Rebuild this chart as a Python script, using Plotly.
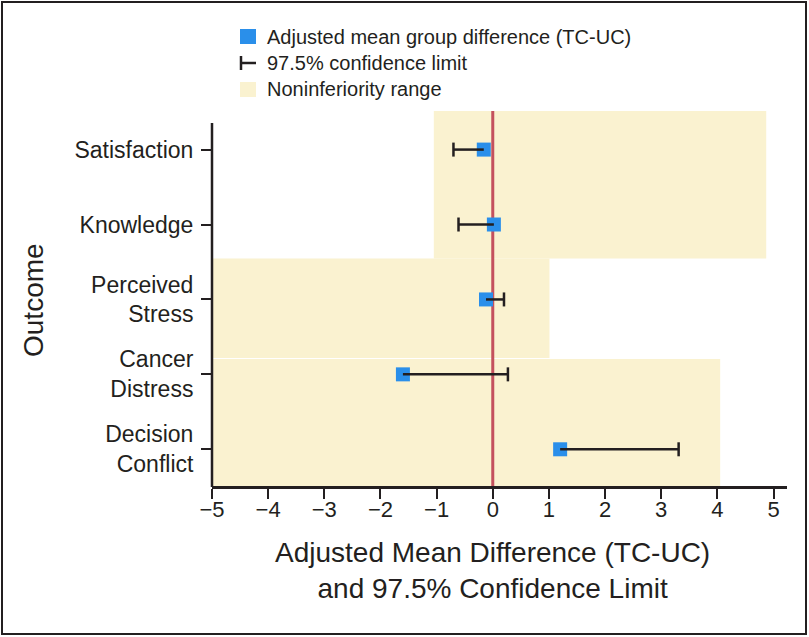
import plotly.graph_objects as go

# ---- data ----
outcomes = ["Satisfaction", "Knowledge", "Perceived<br>Stress", "Cancer<br>Distress", "Decision<br>Conflict"]
estimate = [-0.16, 0.02, -0.12, -1.60, 1.20]
ci_limit = [-0.70, -0.61, 0.20, 0.27, 3.31]
ni_lower = [-1.05, -1.05, -5.0, -5.0, -5.0]
ni_upper = [4.87, 4.87, 1.01, 4.05, 4.05]
x_ticks = [-5, -4, -3, -2, -1, 0, 1, 2, 3, 4, 5]

FONT = "Liberation Sans, Arial, Helvetica, sans-serif"
INK = "#231F20"
BLUE = "#2A8FEA"
CREAM = "#FAF2D0"
RED = "#C4515E"

W, H = 809, 637
L, R, T, B = 212, 22, 111, 151
PW, PH = W - L - R, H - T - B
Y_TOP, Y_BOT = -0.515, 4.49


def px_x(px):
    return (px - L) / PW


def px_y(py):
    return (H - B - py) / PH


rows = list(range(len(outcomes)))

fig = go.Figure()

# point estimates
fig.add_trace(go.Scatter(
    x=estimate, y=rows, mode="markers",
    marker=dict(symbol="square", size=14, color=BLUE, line=dict(width=0)),
    showlegend=False, hoverinfo="skip",
))

# one-sided confidence limits, drawn over the squares
ci_x, ci_y = [], []
for est, lim, r in zip(estimate, ci_limit, rows):
    ci_x += [est, lim, None]
    ci_y += [r, r, None]
fig.add_trace(go.Scatter(
    x=ci_x, y=ci_y, mode="lines",
    line=dict(color=INK, width=2.5),
    showlegend=False, hoverinfo="skip",
))
fig.add_trace(go.Scatter(
    x=ci_limit, y=rows, mode="markers",
    marker=dict(symbol="line-ns", size=10, line=dict(color=INK, width=2.5)),
    showlegend=False, hoverinfo="skip",
))

# noninferiority ranges: consecutive outcomes sharing a margin form one block
spans = [(Y_TOP, 1.453), (1.453, 2.78), (2.795, Y_BOT + 0.1)]
groups = [[0, 1], [2], [3, 4]]
for (y0, y1), g in zip(spans, groups):
    fig.add_shape(type="rect", xref="x", yref="y",
                  x0=ni_lower[g[0]], x1=ni_upper[g[0]], y0=y0, y1=y1,
                  fillcolor=CREAM, line=dict(width=0), layer="below")

# zero reference line
fig.add_shape(type="line", xref="x", yref="y", x0=0, x1=0, y0=Y_TOP, y1=Y_BOT,
              line=dict(color=RED, width=3), layer="below")

# left axis line (shorter than the plot area)
fig.add_shape(type="line", xref="paper", yref="paper", x0=0, x1=0,
              y0=px_y(H - B + 1), y1=px_y(123),
              line=dict(color=INK, width=2.5))

# outer frame
fig.add_shape(type="rect", xref="paper", yref="paper",
              x0=px_x(2), x1=px_x(806), y0=px_y(634), y1=px_y(2),
              line=dict(color=INK, width=2))

# legend
fig.add_shape(type="rect", xref="paper", yref="paper",
              x0=px_x(240), x1=px_x(256), y0=px_y(44), y1=px_y(29),
              fillcolor=BLUE, line=dict(width=0))
fig.add_shape(type="line", xref="paper", yref="paper",
              x0=px_x(241), x1=px_x(241), y0=px_y(70), y1=px_y(56),
              line=dict(color=INK, width=2.5))
fig.add_shape(type="line", xref="paper", yref="paper",
              x0=px_x(241), x1=px_x(256), y0=px_y(63), y1=px_y(63),
              line=dict(color=INK, width=2.5))
fig.add_shape(type="rect", xref="paper", yref="paper",
              x0=px_x(240), x1=px_x(256), y0=px_y(97), y1=px_y(82),
              fillcolor=CREAM, line=dict(width=0))

legend_text = ["Adjusted mean group difference (TC-UC)", "97.5% confidence limit", "Noninferiority range"]
for txt, cy in zip(legend_text, [37, 63, 89]):
    fig.add_annotation(text=txt, xref="paper", yref="paper", x=px_x(265), y=px_y(cy),
                       xanchor="left", yanchor="middle", showarrow=False,
                       font=dict(family=FONT, size=20, color=INK))

# axis titles
fig.add_annotation(text="Adjusted Mean Difference (TC-UC)<br>and 97.5% Confidence Limit",
                   xref="paper", yref="paper", x=px_x(492.5), y=px_y(570.5),
                   xanchor="center", yanchor="middle", showarrow=False,
                   font=dict(family=FONT, size=28, color=INK))
fig.add_annotation(text="Outcome", textangle=-90,
                   xref="paper", yref="paper", x=px_x(33), y=px_y(300),
                   xanchor="center", yanchor="middle", showarrow=False,
                   font=dict(family=FONT, size=28, color=INK))

fig.update_xaxes(
    range=[-5, 5.24], tickvals=x_ticks, ticks="outside", ticklen=10, tickwidth=2,
    tickcolor=INK, showline=True, linewidth=2.5, linecolor=INK,
    showgrid=False, zeroline=False, ticklabelstandoff=-8,
    tickfont=dict(family=FONT, size=22, color=INK),
)
fig.update_yaxes(
    range=[Y_BOT, Y_TOP], tickvals=rows, ticktext=outcomes, ticks="outside",
    ticklen=10, tickwidth=2, tickcolor=INK, showline=False,
    showgrid=False, zeroline=False, ticklabelstandoff=3,
    tickfont=dict(family=FONT, size=23, color=INK),
)

fig.update_layout(
    width=W, height=H,
    margin=dict(l=L, r=R, t=T, b=B),
    plot_bgcolor="white", paper_bgcolor="white",
    showlegend=False,
)

fig.write_html("out.html", config={"displayModeBar": False},
               post_script="document.body.style.margin='0';")
